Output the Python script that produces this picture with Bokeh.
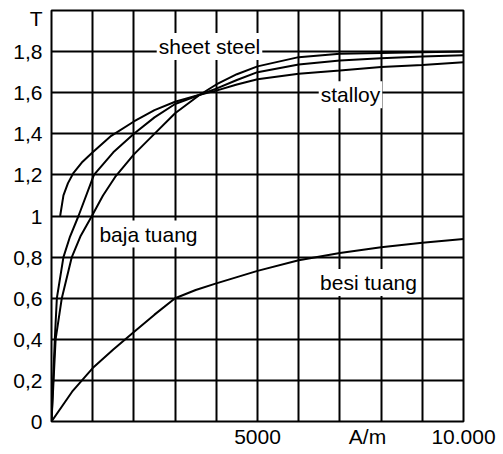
from bokeh.plotting import figure
from bokeh.models import FixedTicker, Label, Range1d
from bokeh.embed import file_html
from bokeh.resources import INLINE

# ---- data (H in A/m, B in T) ----
h_stalloy = [210, 290, 400, 535, 735, 1000, 1450, 2000, 2500, 3000, 3600, 4000, 4500, 5000, 6000, 7000, 8000, 9000, 10000]
b_stalloy = [1.0, 1.10, 1.16, 1.21, 1.26, 1.31, 1.39, 1.46, 1.515, 1.556, 1.59, 1.61, 1.64, 1.665, 1.692, 1.708, 1.725, 1.735, 1.748]

h_middle = [0, 40, 80, 130, 290, 450, 655, 1030, 1500, 2000, 2500, 3000, 3600, 4000, 4500, 5000, 6000, 7000, 8000, 9000, 10000]
b_middle = [0, 0.2, 0.4, 0.6, 0.8, 0.9, 1.0, 1.2, 1.31, 1.40, 1.48, 1.545, 1.59, 1.62, 1.662, 1.70, 1.737, 1.757, 1.768, 1.776, 1.782]

h_sheet = [0, 50, 100, 250, 493, 700, 980, 1250, 1545, 2000, 2400, 3000, 3600, 4000, 4500, 5000, 6000, 7000, 8000, 9000, 10000]
b_sheet = [0, 0.2, 0.4, 0.6, 0.8, 0.9, 1.0, 1.1, 1.19, 1.30, 1.38, 1.50, 1.59, 1.64, 1.69, 1.728, 1.773, 1.789, 1.793, 1.797, 1.80]

h_cast_iron = [0, 500, 1000, 1500, 2000, 2500, 3000, 3500, 4000, 5000, 6000, 7000, 8000, 9000, 10000]
b_cast_iron = [0, 0.145, 0.26, 0.35, 0.435, 0.52, 0.60, 0.64, 0.672, 0.733, 0.785, 0.82, 0.848, 0.87, 0.888]

y_ticks = [0, 0.2, 0.4, 0.6, 0.8, 1.0, 1.2, 1.4, 1.6, 1.8]
y_tick_labels = ["0", "0,2", "0,4", "0,6", "0,8", "1", "1,2", "1,4", "1,6", "1,8"]
y_unit_pos, y_unit = 1.96, "T"
x_ticks = [5000, 7670, 10000]
x_tick_labels = ["5000", "A/m", "10.000"]
x_grid = [1000, 2000, 3000, 4000, 5000, 6000, 7000, 8000, 9000]
y_grid = [0.2, 0.4, 0.6, 0.8, 1.0, 1.2, 1.4, 1.6, 1.8]

curve_labels = ["sheet steel", "stalloy", "baja tuang", "besi tuang"]
label_x = [3835, 7257, 2354, 7694]
label_y = [1.825, 1.59, 0.912, 0.676]

FONT = "Liberation Sans"
FS = "21px"

p = figure(frame_width=412, frame_height=411, output_backend="svg", toolbar_location=None,
           x_range=Range1d(0, 10000), y_range=Range1d(0, 2.0),
           min_border_left=51, min_border_top=10, min_border_right=40, min_border_bottom=33)
p.background_fill_color = "white"
p.border_fill_color = "white"
p.outline_line_color = "black"
p.outline_line_width = 2

p.xgrid.ticker = FixedTicker(ticks=x_grid)
p.ygrid.ticker = FixedTicker(ticks=y_grid)
for g in (p.xgrid[0], p.ygrid[0]):
    g.grid_line_color = "black"
    g.grid_line_width = 2
    g.grid_line_alpha = 1.0

yax = p.yaxis[0]
yax.ticker = FixedTicker(ticks=y_ticks + [y_unit_pos])
ov = {t: s for t, s in zip(y_ticks, y_tick_labels)}
ov[y_unit_pos] = y_unit
yax.major_label_overrides = ov
xax = p.xaxis[0]
xax.ticker = FixedTicker(ticks=x_ticks)
xax.major_label_overrides = {t: s for t, s in zip(x_ticks, x_tick_labels)}
for ax in (xax, yax):
    ax.axis_line_color = None
    ax.major_tick_line_color = None
    ax.minor_tick_line_color = None
    ax.major_tick_in = 0
    ax.major_tick_out = 0
    ax.major_label_text_font = FONT
    ax.major_label_text_font_size = FS
    ax.major_label_text_color = "black"
yax.major_label_text_align = "left"
yax.major_label_standoff = 9
xax.major_label_standoff = 3

for hs, bs in ((h_stalloy, b_stalloy), (h_middle, b_middle), (h_sheet, b_sheet), (h_cast_iron, b_cast_iron)):
    p.line(hs, bs, line_color="black", line_width=2)

for t, lx, ly in zip(curve_labels, label_x, label_y):
    p.add_layout(Label(x=lx, y=ly, text=t, text_align="center", text_baseline="middle",
                       text_font=FONT, text_font_size=FS, text_color="black",
                       background_fill_color="white", padding=2))

open("out.html", "w").write(file_html(p, INLINE))
